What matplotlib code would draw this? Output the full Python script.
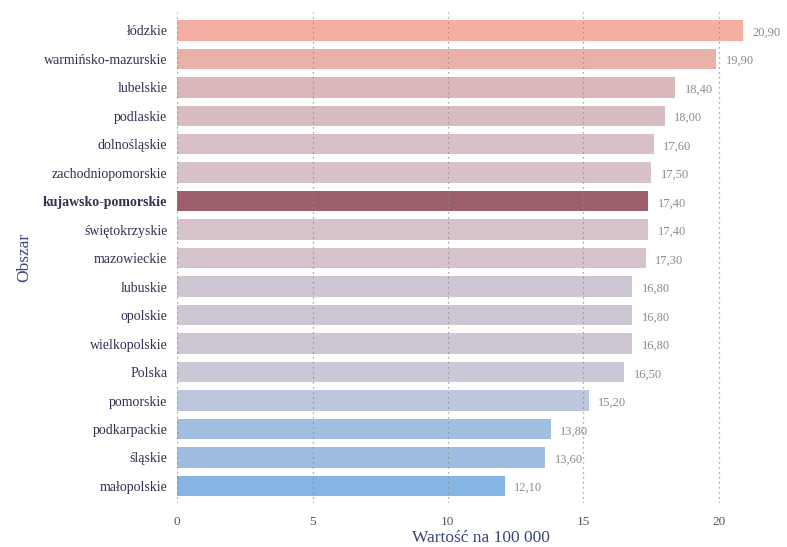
import numpy as np
import matplotlib
matplotlib.use("Agg")
import matplotlib.pyplot as plt
from matplotlib.colors import LinearSegmentedColormap

# Zgony na 100 000 mieszkańców wg województw
regions = [
    "łódzkie", "warmińsko-mazurskie", "lubelskie", "podlaskie",
    "dolnośląskie", "zachodniopomorskie", "kujawsko-pomorskie",
    "świętokrzyskie", "mazowieckie", "lubuskie", "opolskie",
    "wielkopolskie", "Polska", "pomorskie", "podkarpackie", "śląskie",
    "małopolskie",
]
values = [20.9, 19.9, 18.4, 18.0, 17.6, 17.5, 17.4, 17.4, 17.3, 16.8,
          16.8, 16.8, 16.5, 15.2, 13.8, 13.6, 12.1]
highlight = "kujawsko-pomorskie"
xticks = [0, 5, 10, 15, 20]

plt.rcParams["font.family"] = ["Liberation Serif", "DejaVu Serif"]

# blue -> grey-mauve -> salmon, mapped on value
vmin, vmax = min(values), max(values)
def pos(v):
    return (v - vmin) / (vmax - vmin)
cmap = LinearSegmentedColormap.from_list("val", [
    (0.0, "#86b5e3"),
    (pos(13.8), "#a0bfe1"),
    (pos(15.2), "#bcc6dc"),
    (pos(16.5), "#cbc8d7"),
    (pos(17.4), "#d6c3cc"),
    (pos(18.4), "#dbb7ba"),
    (pos(19.9), "#eab1a9"),
    (1.0, "#f5aea2"),
])

fig = plt.figure(figsize=(7.87, 5.47), dpi=100)
ax = fig.add_axes([0.225, 0.0804, 0.771, 0.898])

y = np.arange(len(regions))
colors = [cmap(pos(v)) for v in values]
for i, r in enumerate(regions):
    if r == highlight:
        colors[i] = "#9e5f6c"

ax.barh(y, values, height=0.72, color=colors, zorder=1)

for yi, v in zip(y, values):
    ax.text(v + 0.35, yi + 0.08, f"{v:.2f}".replace(".", ","),
            va="center", ha="left", fontsize=9, color="#8a8a8a")

ax.set_xlim(0, 22.4)
ax.set_ylim(len(regions) - 0.4, -0.65)
ax.set_xticks(xticks)
ax.set_xticklabels([str(t) for t in xticks], fontsize=9.5, color="#555555")
ax.set_yticks(y)
ax.set_yticklabels(regions, fontsize=10, color="#2e3150")
for lbl in ax.get_yticklabels():
    if lbl.get_text() == highlight:
        lbl.set_fontweight("bold")

ax.grid(axis="x", linestyle=(0, (1, 3)), color="#8a8a8a", linewidth=0.9, zorder=2)
ax.set_axisbelow(False)
ax.tick_params(axis="y", length=0, pad=7)
ax.tick_params(axis="x", length=0, pad=9)
for s in ax.spines.values():
    s.set_visible(False)

ax.set_xlabel("Wartość na 100 000", fontsize=12.5, color="#3a4680", labelpad=2)
ax.set_ylabel("Obszar", fontsize=12.5, color="#3a4680", labelpad=8)

fig.savefig("out.png", dpi=100)
